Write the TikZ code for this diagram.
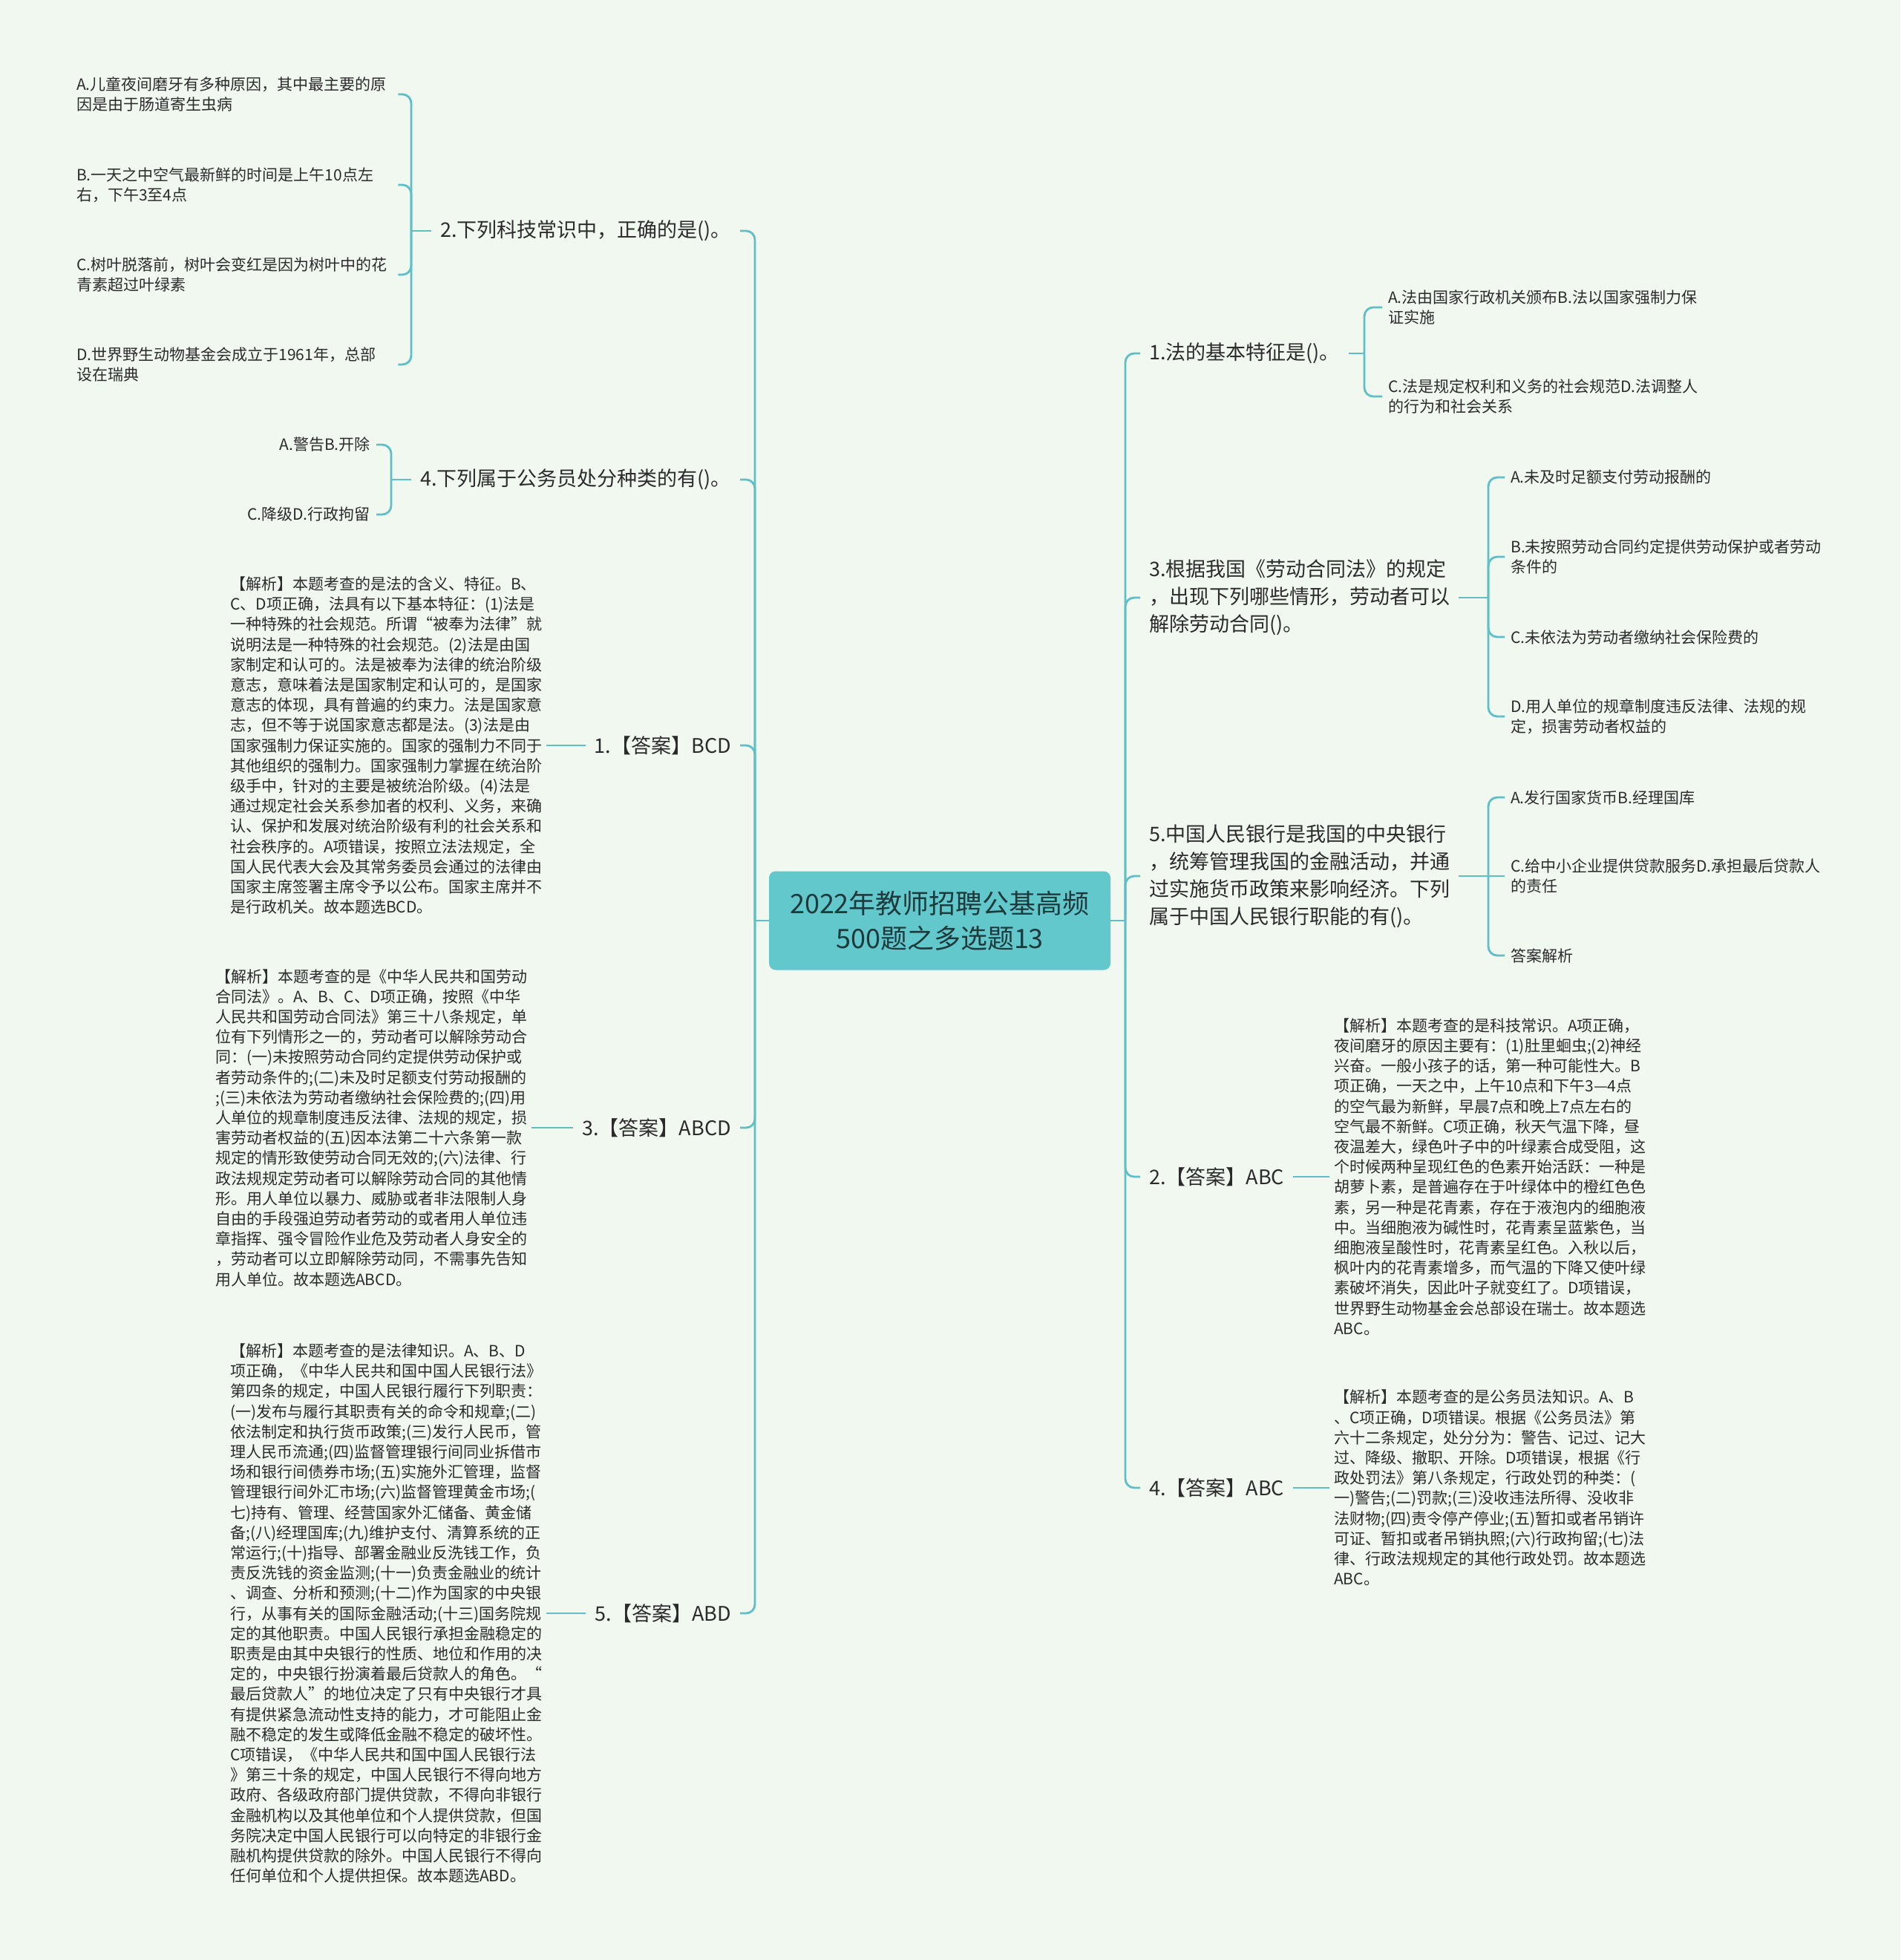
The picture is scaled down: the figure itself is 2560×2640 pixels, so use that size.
\documentclass[tikz,border=0pt]{standalone}
\usepackage{fontspec}
\setmainfont{Noto Sans CJK SC}
\usetikzlibrary{positioning}

\definecolor{bgmint}{HTML}{F0F8F0}
\definecolor{linkteal}{HTML}{5EBFC6}
\definecolor{rootfill}{HTML}{62C8CC}
\definecolor{rootink}{HTML}{1E3A3C}
\definecolor{textink}{HTML}{2B2B2B}

\begin{document}
\begin{tikzpicture}[
    x=1pt, y=-1pt,
    rootbox/.style={
        fill=rootfill, rounded corners=9pt, align=center,
        minimum width=460pt, minimum height=133pt, text=rootink,
        font=\fontsize{36}{47}\selectfont
    },
    branch/.style={
        align=left, inner xsep=12pt, inner ysep=4pt, text=textink,
        font=\fontsize{27}{37}\selectfont
    },
    leaf/.style={
        align=left, inner xsep=8pt, inner ysep=4pt, text=textink,
        font=\fontsize{21}{27.2}\selectfont
    },
    note/.style={
        leaf, inner xsep=6pt
    },
    link/.style={
        draw=linkteal, line width=2.8pt, rounded corners=12pt
    }
]

\fill[bgmint] (0,0) rectangle (2560,2640);

% --- Root ---
\node[rootbox] (root) at (1266,1240) {2022年教师招聘公基高频\\500题之多选题13};
\coordinate (tl) at (1017,1240);
\coordinate (tr) at (1516,1240);

% --- Left: question 2 ---
\node[branch, anchor=east] (q2) at (997,311) {2.下列科技常识中，正确的是()。};
\coordinate (q2j) at (554,311);
\node[leaf, anchor=west, text width=425pt] (q2a) at (95,127) {A.儿童夜间磨牙有多种原因，其中最主要的原\\因是由于肠道寄生虫病};
\node[leaf, anchor=west, text width=425pt] (q2b) at (95,249) {B.一天之中空气最新鲜的时间是上午10点左\\右，下午3至4点};
\node[leaf, anchor=west, text width=425pt] (q2c) at (95,370) {C.树叶脱落前，树叶会变红是因为树叶中的花\\青素超过叶绿素};
\node[leaf, anchor=west, text width=425pt] (q2d) at (95,491) {D.世界野生动物基金会成立于1961年，总部\\设在瑞典};

% --- Left: question 4 ---
\node[branch, anchor=east] (q4) at (997,646) {4.下列属于公务员处分种类的有()。};
\coordinate (q4j) at (527,646);
\node[leaf, anchor=east] (q4a) at (507,599) {A.警告B.开除};
\node[leaf, anchor=east] (q4c) at (507,693) {C.降级D.行政拘留};

% --- Left: answer 1 ---
\node[branch, anchor=east] (ans1) at (997,1004) {1.【答案】BCD};
\node[note, anchor=west] (ans1n) at (304,1004) {%
【解析】本题考查的是法的含义、特征。B、\\
C、D项正确，法具有以下基本特征：(1)法是\\
一种特殊的社会规范。所谓“被奉为法律”就\\
说明法是一种特殊的社会规范。(2)法是由国\\
家制定和认可的。法是被奉为法律的统治阶级\\
意志，意味着法是国家制定和认可的，是国家\\
意志的体现，具有普遍的约束力。法是国家意\\
志，但不等于说国家意志都是法。(3)法是由\\
国家强制力保证实施的。国家的强制力不同于\\
其他组织的强制力。国家强制力掌握在统治阶\\
级手中，针对的主要是被统治阶级。(4)法是\\
通过规定社会关系参加者的权利、义务，来确\\
认、保护和发展对统治阶级有利的社会关系和\\
社会秩序的。A项错误，按照立法法规定，全\\
国人民代表大会及其常务委员会通过的法律由\\
国家主席签署主席令予以公布。国家主席并不\\
是行政机关。故本题选BCD。};

% --- Left: answer 3 ---
\node[branch, anchor=east] (ans3) at (997,1519) {3.【答案】ABCD};
\node[note, anchor=west] (ans3n) at (284,1519) {%
【解析】本题考查的是《中华人民共和国劳动\\
合同法》。A、B、C、D项正确，按照《中华\\
人民共和国劳动合同法》第三十八条规定，单\\
位有下列情形之一的，劳动者可以解除劳动合\\
同：(一)未按照劳动合同约定提供劳动保护或\\
者劳动条件的;(二)未及时足额支付劳动报酬的\\
;(三)未依法为劳动者缴纳社会保险费的;(四)用\\
人单位的规章制度违反法律、法规的规定，损\\
害劳动者权益的(五)因本法第二十六条第一款\\
规定的情形致使劳动合同无效的;(六)法律、行\\
政法规规定劳动者可以解除劳动合同的其他情\\
形。用人单位以暴力、威胁或者非法限制人身\\
自由的手段强迫劳动者劳动的或者用人单位违\\
章指挥、强令冒险作业危及劳动者人身安全的\\
，劳动者可以立即解除劳动同，不需事先告知\\
用人单位。故本题选ABCD。};

% --- Left: answer 5 ---
\node[branch, anchor=east] (ans5) at (997,2173) {5.【答案】ABD};
\node[note, anchor=west] (ans5n) at (304,2173) {%
【解析】本题考查的是法律知识。A、B、D\\
项正确，《中华人民共和国中国人民银行法》\\
第四条的规定，中国人民银行履行下列职责：\\
(一)发布与履行其职责有关的命令和规章;(二)\\
依法制定和执行货币政策;(三)发行人民币，管\\
理人民币流通;(四)监督管理银行间同业拆借市\\
场和银行间债券市场;(五)实施外汇管理，监督\\
管理银行间外汇市场;(六)监督管理黄金市场;(\\
七)持有、管理、经营国家外汇储备、黄金储\\
备;(八)经理国库;(九)维护支付、清算系统的正\\
常运行;(十)指导、部署金融业反洗钱工作，负\\
责反洗钱的资金监测;(十一)负责金融业的统计\\
、调查、分析和预测;(十二)作为国家的中央银\\
行，从事有关的国际金融活动;(十三)国务院规\\
定的其他职责。中国人民银行承担金融稳定的\\
职责是由其中央银行的性质、地位和作用的决\\
定的，中央银行扮演着最后贷款人的角色。“\\
最后贷款人”的地位决定了只有中央银行才具\\
有提供紧急流动性支持的能力，才可能阻止金\\
融不稳定的发生或降低金融不稳定的破坏性。\\
C项错误，《中华人民共和国中国人民银行法\\
》第三十条的规定，中国人民银行不得向地方\\
政府、各级政府部门提供贷款，不得向非银行\\
金融机构以及其他单位和个人提供贷款，但国\\
务院决定中国人民银行可以向特定的非银行金\\
融机构提供贷款的除外。中国人民银行不得向\\
任何单位和个人提供担保。故本题选ABD。};

% --- Right: question 1 ---
\node[branch, anchor=west] (q1) at (1536,476) {1.法的基本特征是()。};
\coordinate (q1j) at (1838,476);
\node[leaf, anchor=west] (q1a) at (1862,414) {A.法由国家行政机关颁布B.法以国家强制力保\\证实施};
\node[leaf, anchor=west] (q1c) at (1862,534) {C.法是规定权利和义务的社会规范D.法调整人\\的行为和社会关系};

% --- Right: question 3 ---
\node[branch, anchor=west] (q3) at (1536,805) {3.根据我国《劳动合同法》的规定\\，出现下列哪些情形，劳动者可以\\解除劳动合同()。};
\coordinate (q3j) at (2005,805);
\node[leaf, anchor=west] (q3a) at (2027,643) {A.未及时足额支付劳动报酬的};
\node[leaf, anchor=west] (q3b) at (2027,750) {B.未按照劳动合同约定提供劳动保护或者劳动\\条件的};
\node[leaf, anchor=west] (q3c) at (2027,858) {C.未依法为劳动者缴纳社会保险费的};
\node[leaf, anchor=west] (q3d) at (2027,965) {D.用人单位的规章制度违反法律、法规的规\\定，损害劳动者权益的};

% --- Right: question 5 ---
\node[branch, anchor=west] (q5) at (1536,1180) {5.中国人民银行是我国的中央银行\\，统筹管理我国的金融活动，并通\\过实施货币政策来影响经济。下列\\属于中国人民银行职能的有()。};
\coordinate (q5j) at (2005,1180);
\node[leaf, anchor=west] (q5a) at (2027,1074) {A.发行国家货币B.经理国库};
\node[leaf, anchor=west] (q5c) at (2027,1180) {C.给中小企业提供贷款服务D.承担最后贷款人\\的责任};
\node[leaf, anchor=west] (q5x) at (2027,1287) {答案解析};

% --- Right: answer 2 ---
\node[branch, anchor=west] (ans2) at (1536,1585) {2.【答案】ABC};
\node[note, anchor=west] (ans2n) at (1791,1585) {%
【解析】本题考查的是科技常识。A项正确，\\
夜间磨牙的原因主要有：(1)肚里蛔虫;(2)神经\\
兴奋。一般小孩子的话，第一种可能性大。B\\
项正确，一天之中，上午10点和下午3—4点\\
的空气最为新鲜，早晨7点和晚上7点左右的\\
空气最不新鲜。C项正确，秋天气温下降，昼\\
夜温差大，绿色叶子中的叶绿素合成受阻，这\\
个时候两种呈现红色的色素开始活跃：一种是\\
胡萝卜素，是普遍存在于叶绿体中的橙红色色\\
素，另一种是花青素，存在于液泡内的细胞液\\
中。当细胞液为碱性时，花青素呈蓝紫色，当\\
细胞液呈酸性时，花青素呈红色。入秋以后，\\
枫叶内的花青素增多，而气温的下降又使叶绿\\
素破坏消失，因此叶子就变红了。D项错误，\\
世界野生动物基金会总部设在瑞士。故本题选\\
ABC。};

% --- Right: answer 4 ---
\node[branch, anchor=west] (ans4) at (1536,2004) {4.【答案】ABC};
\node[note, anchor=west] (ans4n) at (1791,2004) {%
【解析】本题考查的是公务员法知识。A、B\\
、C项正确，D项错误。根据《公务员法》第\\
六十二条规定，处分分为：警告、记过、记大\\
过、降级、撤职、开除。D项错误，根据《行\\
政处罚法》第八条规定，行政处罚的种类：(\\
一)警告;(二)罚款;(三)没收违法所得、没收非\\
法财物;(四)责令停产停业;(五)暂扣或者吊销许\\
可证、暂扣或者吊销执照;(六)行政拘留;(七)法\\
律、行政法规规定的其他行政处罚。故本题选\\
ABC。};

% --- Trunk links ---
\draw[link] (root.west) -- (tl);
\draw[link] (tl) |- (q2.east);
\draw[link] (tl) |- (q4.east);
\draw[link] (tl) |- (ans1.east);
\draw[link] (tl) |- (ans3.east);
\draw[link] (tl) |- (ans5.east);
\draw[link] (root.east) -- (tr);
\draw[link] (tr) |- (q1.west);
\draw[link] (tr) |- (q3.west);
\draw[link] (tr) |- (q5.west);
\draw[link] (tr) |- (ans2.west);
\draw[link] (tr) |- (ans4.west);

% --- Option brackets ---
\draw[link] (q2.west) -- (q2j);
\draw[link] (q2j) |- (q2a.east);
\draw[link] (q2j) |- (q2b.east);
\draw[link] (q2j) |- (q2c.east);
\draw[link] (q2j) |- (q2d.east);
\draw[link] (q4.west) -- (q4j);
\draw[link] (q4j) |- (q4a.east);
\draw[link] (q4j) |- (q4c.east);
\draw[link] (q1.east) -- (q1j);
\draw[link] (q1j) |- (q1a.west);
\draw[link] (q1j) |- (q1c.west);
\draw[link] (q3.east) -- (q3j);
\draw[link] (q3j) |- (q3a.west);
\draw[link] (q3j) |- (q3b.west);
\draw[link] (q3j) |- (q3c.west);
\draw[link] (q3j) |- (q3d.west);
\draw[link] (q5.east) -- (q5j);
\draw[link] (q5j) |- (q5a.west);
\draw[link] (q5j) -- (q5c.west);
\draw[link] (q5j) |- (q5x.west);

% --- Answer notes ---
\draw[link] (ans1.west) -- (ans1n.east);
\draw[link] (ans3.west) -- (ans3n.east);
\draw[link] (ans5.west) -- (ans5n.east);
\draw[link] (ans2.east) -- (ans2n.west);
\draw[link] (ans4.east) -- (ans4n.west);

\end{tikzpicture}
\end{document}
